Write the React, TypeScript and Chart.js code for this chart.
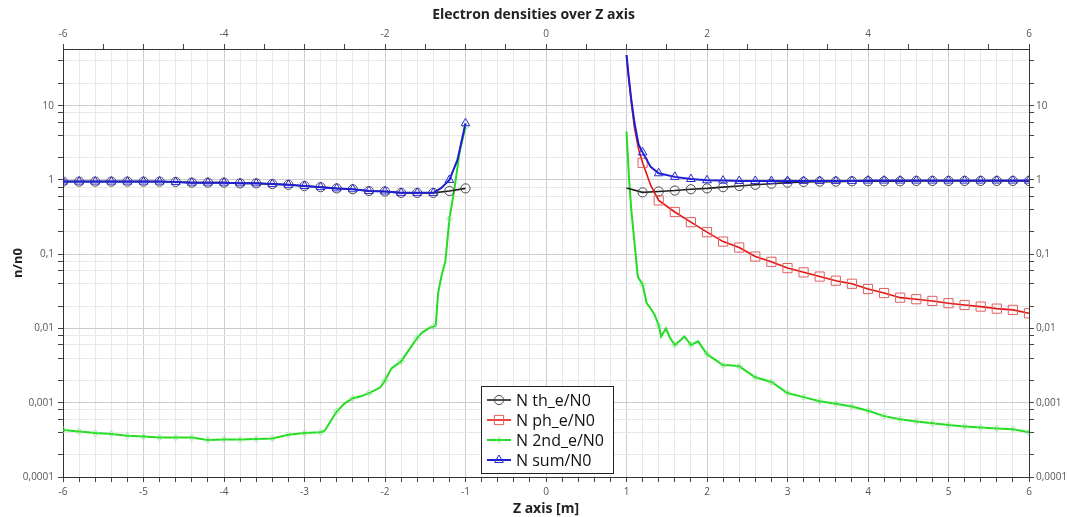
import React, { useEffect, useRef } from 'react';
import { Chart, registerables } from 'chart.js';

Chart.register(...registerables);

// ---------- data (Z in m, n/n0) ----------
const thLeftZ = [-6, -5.8, -5.6, -5.4, -5.2, -5, -4.8, -4.6, -4.4, -4.2, -4, -3.8, -3.6, -3.4, -3.2, -3, -2.8, -2.6, -2.4, -2.2, -2, -1.8, -1.6, -1.4, -1.2, -1];
const thLeftN = [0.95, 0.95, 0.95, 0.95, 0.95, 0.95, 0.95, 0.94, 0.92, 0.92, 0.92, 0.9, 0.9, 0.88, 0.86, 0.83, 0.8, 0.77, 0.75, 0.71, 0.7, 0.67, 0.67, 0.67, 0.71, 0.77];
const thRightZ = [1, 1.2, 1.4, 1.6, 1.8, 2, 2.2, 2.4, 2.6, 2.8, 3, 3.2, 3.4, 3.6, 3.8, 4, 4.2, 4.4, 4.6, 4.8, 5, 5.2, 5.4, 5.6, 5.8, 6];
const thRightN = [0.78, 0.68, 0.7, 0.72, 0.75, 0.77, 0.8, 0.83, 0.86, 0.89, 0.92, 0.94, 0.95, 0.95, 0.96, 0.96, 0.96, 0.96, 0.97, 0.97, 0.97, 0.97, 0.97, 0.97, 0.97, 0.97];

const phRightZ = [1, 1.03, 1.06, 1.1, 1.15, 1.2, 1.3, 1.4, 1.6, 1.8, 2, 2.2, 2.4, 2.6, 2.8, 3, 3.2, 3.4, 3.6, 3.8, 4, 4.2, 4.4, 4.6, 4.8, 5, 5.2, 5.4, 5.6, 5.8, 6];
const phRightN = [48, 22, 11, 5.0, 2.6, 1.7, 0.85, 0.53, 0.37, 0.27, 0.198, 0.148, 0.123, 0.093, 0.079, 0.065, 0.057, 0.05, 0.044, 0.04, 0.034, 0.03, 0.026, 0.0248, 0.0235, 0.0219, 0.0207, 0.0197, 0.0185, 0.0178, 0.016];

const sndLeftZ = [-6, -5.8, -5.6, -5.4, -5.2, -5, -4.8, -4.6, -4.4, -4.2, -4, -3.8, -3.6, -3.4, -3.2, -3, -2.8, -2.75, -2.6, -2.5, -2.4, -2.3, -2.2, -2.06, -2, -1.92, -1.8, -1.7, -1.6, -1.54, -1.45, -1.4, -1.37, -1.34, -1.3, -1.25, -1.2, -1.14, -1.07, -1];
const sndLeftN = [4.3e-4, 4.1e-4, 3.9e-4, 3.8e-4, 3.6e-4, 3.5e-4, 3.4e-4, 3.4e-4, 3.4e-4, 3.15e-4, 3.2e-4, 3.2e-4, 3.25e-4, 3.3e-4, 3.7e-4, 3.9e-4, 4.0e-4, 4.2e-4, 7.6e-4, 9.8e-4, 1.15e-3, 1.22e-3, 1.35e-3, 1.6e-3, 2.0e-3, 2.9e-3, 3.6e-3, 5.2e-3, 7.5e-3, 8.8e-3, 0.0102, 0.0106, 0.011, 0.03, 0.05, 0.08, 0.3, 0.73, 2.5, 5.2];
const sndRightZ = [1, 1.03, 1.06, 1.1, 1.14, 1.2, 1.25, 1.3, 1.35, 1.4, 1.43, 1.49, 1.54, 1.6, 1.66, 1.72, 1.8, 1.89, 2, 2.1, 2.2, 2.28, 2.4, 2.5, 2.6, 2.8, 3, 3.2, 3.4, 3.6, 3.8, 4, 4.2, 4.4, 4.6, 4.8, 5, 5.2, 5.4, 5.6, 5.8, 6];
const sndRightN = [4.5, 1.1, 0.39, 0.14, 0.05, 0.039, 0.022, 0.0186, 0.0152, 0.011, 0.0078, 0.01, 0.0075, 0.006, 0.0068, 0.0078, 0.006, 0.0067, 0.0045, 0.0038, 0.0032, 0.0032, 0.0031, 0.0026, 0.0022, 0.0019, 0.00135, 0.00119, 0.00105, 0.00097, 0.00089, 0.00078, 0.00066, 0.0006, 0.00056, 0.00053, 0.0005, 0.00048, 0.000465, 0.00045, 0.00044, 0.0004];

const sumLeftZ = [-6, -5.8, -5.6, -5.4, -5.2, -5, -4.8, -4.6, -4.4, -4.2, -4, -3.8, -3.6, -3.4, -3.2, -3, -2.8, -2.6, -2.4, -2.2, -2, -1.8, -1.6, -1.4, -1.3, -1.2, -1.1, -1];
const sumLeftN = [0.95, 0.95, 0.95, 0.95, 0.95, 0.95, 0.95, 0.94, 0.92, 0.92, 0.92, 0.9, 0.9, 0.88, 0.86, 0.83, 0.8, 0.77, 0.75, 0.71, 0.7, 0.67, 0.67, 0.67, 0.78, 1.0, 1.86, 5.8];
const sumRightZ = [1, 1.03, 1.06, 1.1, 1.15, 1.2, 1.3, 1.4, 1.6, 1.8, 2, 2.2, 2.4, 2.6, 2.8, 3, 3.2, 3.4, 3.6, 3.8, 4, 4.2, 4.4, 4.6, 4.8, 5, 5.2, 5.4, 5.6, 5.8, 6];
const sumRightN = [48, 23, 12, 5.8, 3.0, 2.35, 1.5, 1.23, 1.1, 1.03, 0.99, 0.98, 0.97, 0.97, 0.97, 0.97, 0.97, 0.97, 0.97, 0.97, 0.98, 0.98, 0.98, 0.98, 0.98, 0.98, 0.98, 0.98, 0.98, 0.98, 0.98];

// ---------- axes ----------
const seriesLabels = ['N th_e/N0', 'N ph_e/N0', 'N 2nd_e/N0', 'N sum/N0'];
const xBottomLabels = ['-6', '-5', '-4', '-3', '-2', '-1', '0', '1', '2', '3', '4', '5', '6'];
const xTopLabels = ['-6', '-4', '-2', '0', '2', '4', '6'];
const yDecades = [0.0001, 0.001, 0.01, 0.1, 1, 10];
const yTickLabels = ['0,0001', '0,001', '0,01', '0,1', '1', '10'];
const yMinorFactors = [1, 2, 4, 6, 8];
const yMin = 0.0001;
const yMax = 58;

const FONT = "'Open Sans', 'DejaVu Sans', sans-serif";
const TICK_COLOR = '#555';

const onStep = (v: number, step: number) => Math.abs(v / step - Math.round(v / step)) < 1e-6;
const isDecade = (v: number) => Math.abs(Math.log10(v) - Math.round(Math.log10(v))) < 1e-6;

const xMinorTicks: number[] = [];
for (let i = -30; i <= 30; i++) xMinorTicks.push(i / 5);
const xTopTicks: number[] = [];
for (let i = -12; i <= 12; i++) xTopTicks.push(i / 2);
const yTicks: number[] = [];
yDecades.forEach((d) => yMinorFactors.forEach((f) => { if (d * f <= yMax) yTicks.push(d * f); }));

function pts(zs: number[], ns: number[]) {
  return zs.map((z, i) => ({ x: z, y: ns[i] }));
}
function join(left: any[], right: any[]) {
  return left.length ? [...left, { x: 0, y: null }, ...right] : right;
}
const markerRadius = (r: number) => (ctx: any) => {
  const p = ctx.raw;
  if (!p || p.y == null) return 0;
  return onStep(p.x, 0.2) && Math.abs(p.x - 1) > 1e-6 ? r : 0;
};

function drawMarker(ctx: CanvasRenderingContext2D, style: string, x: number, y: number, r: number, color: string) {
  ctx.save();
  ctx.strokeStyle = color;
  ctx.lineWidth = 1;
  ctx.beginPath();
  if (style === 'circle') {
    ctx.arc(x, y, r, 0, Math.PI * 2);
  } else if (style === 'rect') {
    const s = Math.SQRT1_2 * r;
    ctx.rect(x - s, y - s, 2 * s, 2 * s);
  } else if (style === 'triangle') {
    let a = 0;
    ctx.moveTo(x + Math.sin(a) * r, y - Math.cos(a) * r);
    a += (2 * Math.PI) / 3;
    ctx.lineTo(x + Math.sin(a) * r, y - Math.cos(a) * r);
    a += (2 * Math.PI) / 3;
    ctx.lineTo(x + Math.sin(a) * r, y - Math.cos(a) * r);
    ctx.closePath();
  } else {
    ctx.moveTo(x, y - r);
    ctx.lineTo(x + r, y);
    ctx.lineTo(x, y + r);
    ctx.lineTo(x - r, y);
    ctx.closePath();
  }
  ctx.stroke();
  ctx.restore();
}

const legendBoxPlugin = {
  id: 'legendBox',
  afterDraw(chart: any) {
    const { ctx, chartArea } = chart;
    const w = 132;
    const h = 87;
    const left = Math.round((chartArea.left + chartArea.right) / 2 - w / 2) + 1;
    const top = Math.round(chartArea.bottom - 4 - h);
    ctx.save();
    ctx.fillStyle = '#ffffff';
    ctx.fillRect(left, top, w, h);
    ctx.strokeStyle = '#222';
    ctx.lineWidth = 1;
    ctx.strokeRect(left + 0.5, top + 0.5, w, h);
    ctx.font = `16px ${FONT}`;
    ctx.textBaseline = 'middle';
    ctx.textAlign = 'left';
    chart.data.datasets.forEach((ds: any, i: number) => {
      const y = top + 14 + i * 20;
      ctx.strokeStyle = ds.borderColor;
      ctx.lineWidth = ds.borderWidth;
      ctx.beginPath();
      ctx.moveTo(left + 6, y);
      ctx.lineTo(left + 30, y);
      ctx.stroke();
      drawMarker(ctx, ds.pointStyle, left + 18, y, ds.legendRadius, ds.pointBorderColor);
      ctx.fillStyle = '#111';
      ctx.fillText(ds.label, left + 35, y + 1);
    });
    ctx.restore();
  },
};

export default function App() {
  const ref = useRef<HTMLCanvasElement>(null);

  useEffect(() => {
    if (!ref.current) return;
    const tickFont = { family: FONT, size: 10 };
    const chart = new Chart(ref.current, {
      type: 'line',
      data: {
        datasets: [
          {
            label: seriesLabels[0],
            data: join(pts(thLeftZ, thLeftN), pts(thRightZ, thRightN)),
            borderColor: '#1e1e1e',
            borderWidth: 1.6,
            pointStyle: 'circle',
            pointRadius: markerRadius(4.6),
            pointBorderColor: '#4a4a4a',
            pointBackgroundColor: 'rgba(0,0,0,0)',
            pointBorderWidth: 1,
            legendRadius: 4.6,
            order: 2,
          } as any,
          {
            label: seriesLabels[1],
            data: pts(phRightZ, phRightN),
            borderColor: '#e41414',
            borderWidth: 1.6,
            pointStyle: 'rect',
            pointRadius: markerRadius(6.5),
            pointBorderColor: '#e26060',
            pointBackgroundColor: 'rgba(0,0,0,0)',
            pointBorderWidth: 1,
            legendRadius: 6.5,
            order: 1,
          } as any,
          {
            label: seriesLabels[2],
            data: join(pts(sndLeftZ, sndLeftN), pts(sndRightZ, sndRightN)),
            borderColor: '#22dd22',
            borderWidth: 2,
            pointStyle: 'rectRot',
            pointRadius: markerRadius(3.2),
            pointBorderColor: 'rgba(140,230,140,0.9)',
            pointBackgroundColor: 'rgba(0,0,0,0)',
            pointBorderWidth: 1,
            legendRadius: 3.2,
            order: 3,
          } as any,
          {
            label: seriesLabels[3],
            data: join(pts(sumLeftZ, sumLeftN), pts(sumRightZ, sumRightN)),
            borderColor: '#1e1ed2',
            borderWidth: 2,
            pointStyle: 'triangle',
            pointRadius: markerRadius(5),
            pointBorderColor: '#2a2ad8',
            pointBackgroundColor: 'rgba(0,0,0,0)',
            pointBorderWidth: 1,
            legendRadius: 5,
            order: 0,
          } as any,
        ],
      },
      options: {
        animation: false,
        responsive: false,
        maintainAspectRatio: false,
        events: [],
        spanGaps: false,
        layout: { padding: 0 },
        elements: { line: { tension: 0 } },
        plugins: {
          legend: { display: false },
          tooltip: { enabled: false },
          title: {
            display: true,
            text: 'Electron densities over Z axis',
            color: '#222',
            font: { family: FONT, size: 14, weight: 'bold', lineHeight: 1.2 },
            padding: { top: 7, bottom: 3 },
          },
        },
        scales: {
          x: {
            type: 'linear',
            position: 'bottom',
            min: -6,
            max: 6,
            afterBuildTicks: (s: any) => { s.ticks = xMinorTicks.map((v) => ({ value: v })); },
            afterFit: (s: any) => { s.height = 40; },
            ticks: {
              autoSkip: false,
              maxRotation: 0,
              padding: 4,
              color: TICK_COLOR,
              font: tickFont,
              callback: (v: any) => (onStep(v, 1) ? xBottomLabels[Math.round(v) + 6] : ''),
            },
            grid: {
              color: (c: any) => (c.tick && onStep(c.tick.value, 1) ? '#cccccc' : '#e8e8e8'),
              tickColor: '#444',
              tickLength: 5,
              lineWidth: 1,
            },
            border: { display: true, color: '#333', width: 1 },
            title: {
              display: true,
              text: 'Z axis [m]',
              color: '#222',
              font: { family: FONT, size: 14, weight: 'bold', lineHeight: 1.2 },
              padding: { top: 0, bottom: 0 },
            },
          },
          x2: {
            type: 'linear',
            position: 'top',
            min: -6,
            max: 6,
            afterBuildTicks: (s: any) => { s.ticks = xTopTicks.map((v) => ({ value: v })); },
            afterFit: (s: any) => { s.height = 22.2; },
            ticks: {
              autoSkip: false,
              maxRotation: 0,
              padding: 4,
              color: TICK_COLOR,
              font: tickFont,
              callback: (v: any) => (onStep(v, 2) ? xTopLabels[Math.round((v + 6) / 2)] : ''),
            },
            grid: { drawOnChartArea: false, tickColor: '#444', tickLength: 5, color: '#444' },
            border: { display: true, color: '#333', width: 1 },
          },
          y: {
            type: 'logarithmic',
            position: 'left',
            min: yMin,
            max: yMax,
            afterBuildTicks: (s: any) => { s.ticks = yTicks.map((v) => ({ value: v, major: isDecade(v) })); },
            afterFit: (s: any) => { s.width = 63; },
            ticks: {
              autoSkip: false,
              padding: 4,
              color: TICK_COLOR,
              font: tickFont,
              callback: (v: any) => {
                const i = yDecades.findIndex((d) => Math.abs(d - v) / d < 1e-6);
                return i >= 0 ? yTickLabels[i] : '';
              },
            },
            grid: {
              color: (c: any) => (c.tick && isDecade(c.tick.value) ? '#cccccc' : '#e8e8e8'),
              tickColor: '#444',
              tickLength: 5,
              lineWidth: 1,
            },
            border: { display: true, color: '#333', width: 1 },
            title: {
              display: true,
              text: 'n/n0',
              color: '#222',
              font: { family: FONT, size: 13, weight: 'bold', lineHeight: 1.2 },
              padding: { top: 10, bottom: 0 },
            },
          },
          y2: {
            type: 'logarithmic',
            position: 'right',
            min: yMin,
            max: yMax,
            afterBuildTicks: (s: any) => { s.ticks = yTicks.map((v) => ({ value: v, major: isDecade(v) })); },
            afterFit: (s: any) => { s.width = 38; },
            ticks: {
              autoSkip: false,
              padding: 2,
              color: TICK_COLOR,
              font: tickFont,
              callback: (v: any) => {
                const i = yDecades.findIndex((d) => Math.abs(d - v) / d < 1e-6);
                return i >= 0 ? yTickLabels[i] : '';
              },
            },
            grid: { drawOnChartArea: false, tickColor: '#444', tickLength: 5, color: '#444' },
            border: { display: true, color: '#333', width: 1 },
          },
        },
      } as any,
      plugins: [legendBoxPlugin],
    });
    return () => chart.destroy();
  }, []);

  return (
    <div style={{ position: 'absolute', left: 0, top: 0, width: 1067, height: 517, background: '#fff' }}>
      <canvas ref={ref} width={1067} height={517} style={{ display: 'block' }} />
    </div>
  );
}
